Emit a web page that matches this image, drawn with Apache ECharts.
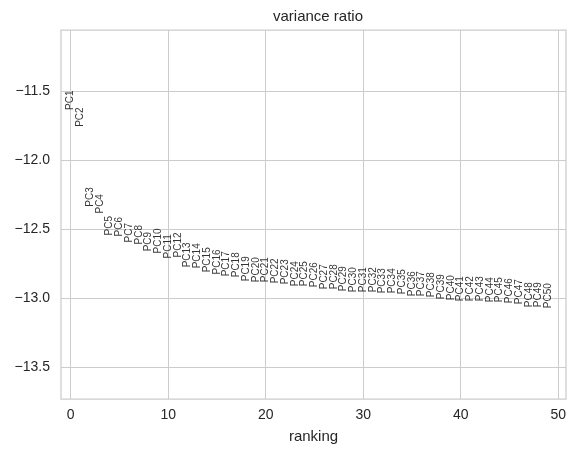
<!DOCTYPE html>
<html>
<head>
<meta charset="utf-8">
<script src="https://cdn.jsdelivr.net/npm/echarts@6/dist/echarts.min.js"></script>
<style>
  html, body { margin: 0; padding: 0; background: #fff; }
  #chart { width: 577px; height: 457px; }
</style>
</head>
<body>
<div id="chart"></div>
<script>
// log variance ratio per PC
const pcLabels = [];
for (let i = 1; i <= 50; i++) pcLabels.push('PC' + i);
const ratios = [
  -11.637, -11.760, -12.338, -12.388, -12.547, -12.554, -12.597, -12.612, -12.662, -12.677,
  -12.713, -12.706, -12.778, -12.785, -12.814, -12.829, -12.843, -12.850, -12.879, -12.886,
  -12.886, -12.894, -12.901, -12.915, -12.915, -12.922, -12.937, -12.937, -12.951, -12.958,
  -12.958, -12.958, -12.966, -12.966, -12.973, -12.987, -12.987, -12.994, -13.009, -13.016,
  -13.023, -13.023, -13.023, -13.031, -13.031, -13.038, -13.045, -13.067, -13.067, -13.074
];
const xTicks = [0, 10, 20, 30, 40, 50];
const yTicks = [-13.5, -13.0, -12.5, -12.0, -11.5];

const txt = '#262626';
const gridCol = '#cccccc';
const font = 'Liberation Sans, Arial, sans-serif';

const points = ratios.map((v, i) => [i, v, pcLabels[i]]);

const chart = echarts.init(document.getElementById('chart'));
chart.setOption({
  animation: false,
  title: {
    text: 'variance ratio',
    left: 313, top: 4,
    textAlign: 'center',
    textStyle: { fontFamily: font, fontSize: 15, fontWeight: 'normal', color: txt }
  },
  grid: {
    left: 61, right: 11, top: 30, bottom: 58,
    show: true, borderColor: gridCol, borderWidth: 1.25
  },
  xAxis: {
    type: 'value',
    min: -1.0, max: 50.8,
    name: 'ranking',
    nameLocation: 'middle',
    nameGap: 30,
    nameTextStyle: { fontFamily: font, fontSize: 15, color: txt },
    axisLine: { show: false },
    axisTick: { show: false, customValues: xTicks },
    axisLabel: {
      customValues: xTicks,
      fontFamily: font, fontSize: 14, color: txt, margin: 9
    },
    splitLine: { show: true, lineStyle: { color: gridCol, width: 1 } }
  },
  yAxis: {
    type: 'value',
    min: -13.732, max: -11.058,
    axisLine: { show: false },
    axisTick: { show: false, customValues: yTicks },
    axisLabel: {
      customValues: yTicks,
      fontFamily: font, fontSize: 14, color: txt, margin: 11,
      formatter: v => v.toFixed(1).replace('-', '\u2212')
    },
    splitLine: { show: true, lineStyle: { color: gridCol, width: 1 } }
  },
  series: [{
    type: 'scatter',
    data: points,
    symbolSize: 0,
    silent: true,
    label: {
      show: true,
      position: 'inside',
      rotate: 90,
      align: 'left',
      verticalAlign: 'middle',
      formatter: p => p.data[2],
      fontFamily: font, fontSize: 10, color: '#000'
    }
  }]
});
</script>
</body>
</html>
